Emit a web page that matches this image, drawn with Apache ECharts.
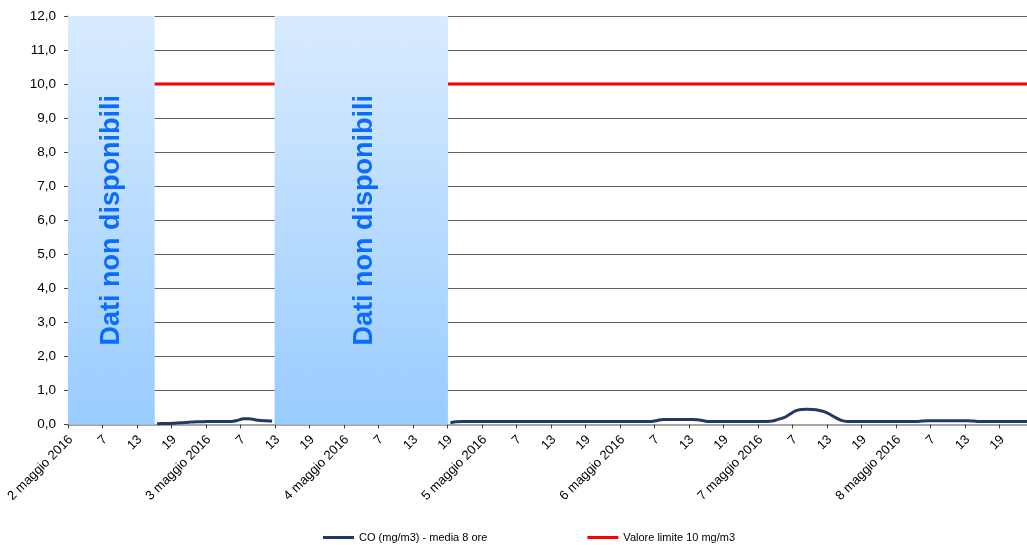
<!DOCTYPE html>
<html>
<head>
<meta charset="utf-8">
<script src="https://cdn.jsdelivr.net/npm/echarts@6/dist/echarts.min.js"></script>
<style>
html,body{margin:0;padding:0;background:#fff;}
#chart{width:1027px;height:545px;}
</style>
</head>
<body>
<div id="chart"></div>
<script>
// Days shown on the x axis (hourly categories, hours 1..24 for each day)
var days = ['2 maggio 2016','3 maggio 2016','4 maggio 2016','5 maggio 2016','6 maggio 2016','7 maggio 2016','8 maggio 2016'];
var hours = [1,2,3,4,5,6,7,8,9,10,11,12,13,14,15,16,17,18,19,20,21,22,23,24];

// CO (mg/m3) - media 8 ore, one value per hour (null = dati non disponibili)
var co2May = [null,null,null,null,null,null,null,null,null,null,null,null,null,null,null,0.02,0.03,0.03,0.04,0.05,0.06,0.07,0.08,0.08];
var co3May = [0.09,0.09,0.09,0.09,0.09,0.12,0.17,0.17,0.14,0.12,0.11,0.10,null,null,null,null,null,null,null,null,null,null,null,null];
var co4May = [null,null,null,null,null,null,null,null,null,null,null,null,null,null,null,null,null,null,0.05,0.08,0.09,0.09,0.09,0.09];
var co5May = [0.09,0.09,0.09,0.09,0.09,0.09,0.09,0.09,0.09,0.09,0.09,0.09,0.09,0.09,0.09,0.09,0.09,0.09,0.09,0.09,0.09,0.09,0.09,0.09];
var co6May = [0.09,0.09,0.09,0.09,0.09,0.09,0.12,0.15,0.15,0.15,0.15,0.15,0.15,0.14,0.11,0.09,0.09,0.09,0.09,0.09,0.09,0.09,0.09,0.09];
var co7May = [0.09,0.09,0.10,0.15,0.20,0.30,0.40,0.44,0.45,0.44,0.42,0.38,0.30,0.20,0.12,0.09,0.09,0.09,0.09,0.09,0.09,0.09,0.09,0.09];
var co8May = [0.09,0.09,0.09,0.09,0.10,0.11,0.11,0.11,0.11,0.11,0.11,0.11,0.11,0.10,0.09,0.09,0.09,0.09,0.09,0.09,0.09,0.09,0.09,0.09];

// Valore limite
var limitValue = 10;
// Height of the "dati non disponibili" bands (full axis)
var bandValue = 12;
var yTicks = {min: 0, max: 12, interval: 1};

var seriesNames = ['CO (mg/m3) - media 8 ore', 'Valore limite 10 mg/m3'];
var missingText = 'Dati non disponibili';

// ---- build arrays
var categories = [];
days.forEach(function (d) {
  hours.forEach(function (h) { categories.push(h === 1 ? d : String(h)); });
});
var co = [].concat(co2May, co3May, co4May, co5May, co6May, co7May, co8May);
var limit = categories.map(function () { return limitValue; });

// hours with missing data -> full-height bars; label in the middle of each run
var missing = co.map(function (v) { return v === null ? bandValue : null; });
var runs = [];
var start = -1;
for (var i = 0; i <= co.length; i++) {
  var isMiss = i < co.length && co[i] === null;
  if (isMiss && start < 0) start = i;
  if (!isMiss && start >= 0) { runs.push([start, i - 1]); start = -1; }
}
var labelIdx = runs.map(function (r) { return Math.floor((r[0] + r[1] + 1) / 2); });
var bandData = missing.map(function (v, idx) {
  if (labelIdx.indexOf(idx) >= 0) {
    return {
      value: v,
      label: {
        show: true, position: 'inside', rotate: 90,
        formatter: missingText,
        fontSize: 27, fontWeight: 'bold', color: '#0A6CFF',
        fontFamily: 'Liberation Sans, Arial, sans-serif'
      }
    };
  }
  return v;
});

var every6 = function (index) { return index % 6 === 0; };
var font = 'Liberation Sans, Arial, sans-serif';

var chart = echarts.init(document.getElementById('chart'), null, {renderer: 'canvas'});
chart.setOption({
  animation: false,
  backgroundColor: '#ffffff',
  textStyle: {fontFamily: font},
  grid: {left: 68, top: 16, width: 966, bottom: 120.5, containLabel: false, outerBoundsMode: 'none'},
  legend: {
    data: seriesNames,
    left: 323, top: 532, padding: 0,
    icon: 'rect', itemWidth: 31, itemHeight: 3, itemGap: 100,
    textStyle: {fontSize: 11, color: '#000', fontFamily: font}
  },
  xAxis: {
    type: 'category',
    data: categories,
    boundaryGap: true,
    axisLine: {show: true, lineStyle: {color: '#A6A6A6', width: 2}},
    axisTick: {show: true, interval: every6, length: 4, lineStyle: {color: '#404040'}},
    axisLabel: {interval: every6, rotate: 45, fontSize: 13, color: '#000', margin: 13, fontFamily: font},
    splitLine: {show: false}
  },
  yAxis: {
    type: 'value',
    min: yTicks.min, max: yTicks.max, interval: yTicks.interval,
    axisLine: {show: true, lineStyle: {color: '#868686', width: 1}},
    axisTick: {show: true, length: 4, lineStyle: {color: '#404040'}},
    axisLabel: {
      fontSize: 13.5, color: '#000', margin: 12, fontFamily: font,
      formatter: function (v) { return v.toFixed(1).replace('.', ','); }
    },
    splitLine: {show: true, lineStyle: {color: '#606060', width: 1}}
  },
  series: [
    {
      name: 'nd',
      type: 'bar',
      data: bandData,
      barWidth: '115%',
      barGap: '-100%',
      z: 3,
      silent: true,
      itemStyle: {
        color: new echarts.graphic.LinearGradient(0, 0, 0, 1, [
          {offset: 0, color: '#D8EBFE'},
          {offset: 1, color: '#99CCFF'}
        ])
      }
    },
    {
      name: seriesNames[0],
      type: 'line',
      data: co,
      smooth: 0.3,
      symbol: 'none',
      connectNulls: false,
      z: 4,
      color: '#1F3B63',
      lineStyle: {color: '#1F3B63', width: 3}
    },
    {
      name: seriesNames[1],
      type: 'line',
      data: limit,
      symbol: 'none',
      z: 2,
      color: '#FF0000',
      lineStyle: {color: '#FF0000', width: 3}
    }
  ]
});
</script>
</body>
</html>
